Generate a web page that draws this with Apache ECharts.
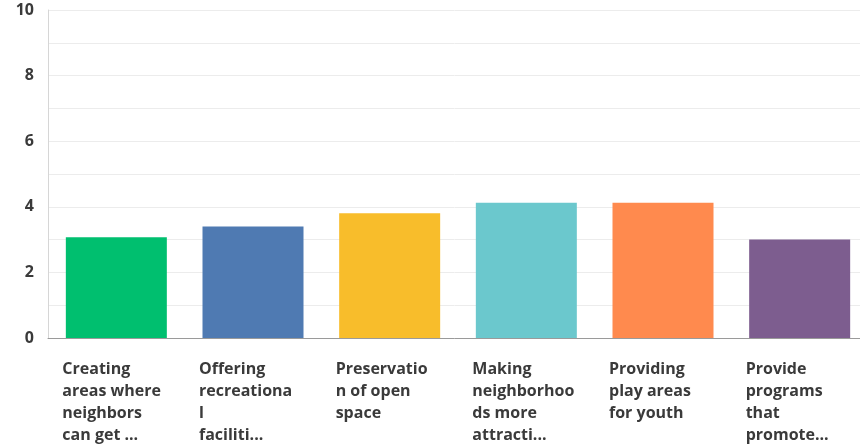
<!DOCTYPE html>
<html>
<head>
<meta charset="utf-8">
<script src="https://cdn.jsdelivr.net/npm/echarts@6/dist/echarts.min.js"></script>
<style>
  html, body { margin: 0; padding: 0; background: #fff; }
  #chart { width: 860px; height: 444px; }
</style>
</head>
<body>
<div id="chart"></div>
<script>
// Category labels, already broken into the lines shown under each bar
const categories = [
  'Creating\nareas where\nneighbors\ncan get ...',
  'Offering\nrecreationa\nl\nfaciliti...',
  'Preservatio\nn of open\nspace',
  'Making\nneighborhoo\nds more\nattracti...',
  'Providing\nplay areas\nfor youth',
  'Provide\nprograms\nthat\npromote...'
];
// Average score per category
const values = [3.07, 3.40, 3.80, 4.12, 4.12, 3.00];
const barColors = ['#00bf6f', '#4f7ab2', '#f8bd2b', '#6bc8cd', '#ff8a4e', '#7d5d8f'];
const yTicks = [0, 2, 4, 6, 8, 10];

const chart = echarts.init(document.getElementById('chart'));
chart.setOption({
  animation: false,
  // the plot runs a little past the right edge of the canvas
  grid: { left: 48, width: 820, top: 10, bottom: 106, containLabel: false, outerBoundsMode: 'none' },
  xAxis: {
    type: 'category',
    data: categories,
    axisLine: { show: true, lineStyle: { color: '#9a9a9a', width: 1 } },
    axisTick: { show: false },
    axisLabel: {
      interval: 0,
      margin: 20,
      formatter: function (v) {
        return v.split('\n').map(function (l) { return '{a|' + l + '}'; }).join('\n');
      },
      rich: {
        a: {
          width: 108,
          align: 'left',
          fontFamily: 'Open Sans',
          fontWeight: 'bold',
          fontSize: 16,
          lineHeight: 22,
          color: '#3a3a3a'
        }
      }
    }
  },
  yAxis: {
    type: 'value',
    min: yTicks[0],
    max: yTicks[yTicks.length - 1],
    interval: 2,
    axisLine: { show: true, lineStyle: { color: '#d6d6d6' } },
    axisTick: { show: false },
    axisLabel: {
      margin: 14,
      color: '#3a3a3a',
      fontFamily: 'Open Sans',
      fontWeight: 'bold',
      fontSize: 16,
      formatter: function (v) { return yTicks.indexOf(v) >= 0 ? String(v) : ''; }
    },
    splitLine: { show: true, lineStyle: { color: '#ececec', width: 1 } },
    minorTick: { show: false, splitNumber: 2 },
    minorSplitLine: { show: true, lineStyle: { color: '#ececec', width: 1 } }
  },
  series: [{
    type: 'bar',
    data: values.map(function (v, i) {
      return { value: v, itemStyle: { color: barColors[i] } };
    }),
    barWidth: 101
  }]
});
</script>
</body>
</html>
